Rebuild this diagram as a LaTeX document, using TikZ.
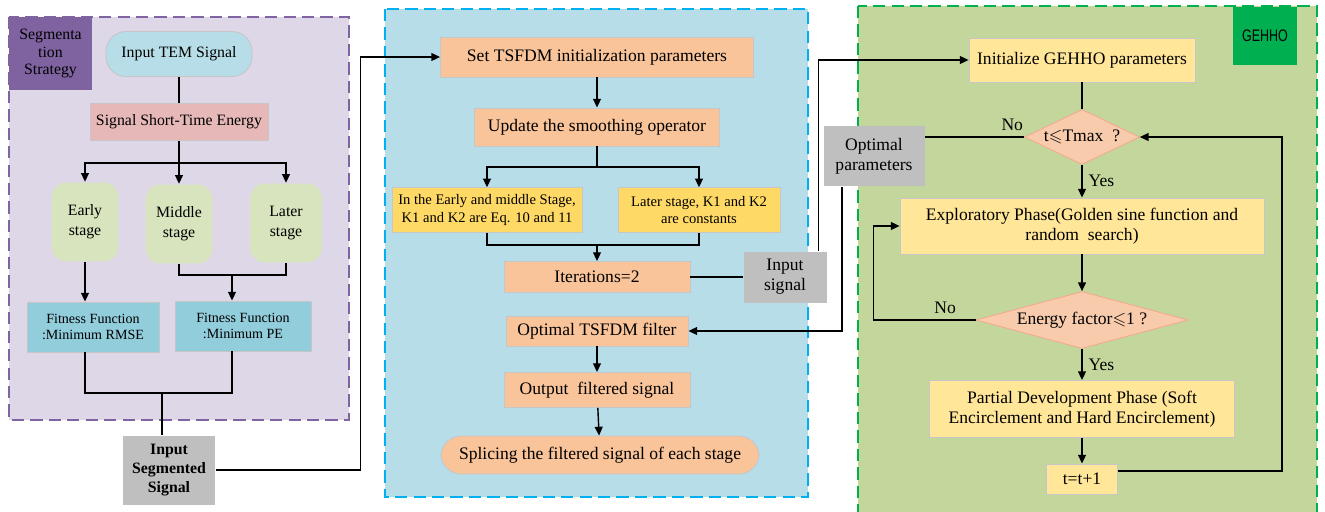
\documentclass[tikz,border=0pt]{standalone}
\usepackage{fontspec}
\usepackage{amssymb}
\setmainfont{Liberation Serif}
\newfontfamily\tagfont[FakeStretch=0.75]{Liberation Sans}
\usetikzlibrary{shapes.geometric,arrows.meta}

\definecolor{segbg}{HTML}{DED7E7}
\definecolor{segline}{HTML}{8064A2}
\definecolor{segtag}{HTML}{7F62A0}
\definecolor{tembg}{HTML}{B7DEE8}
\definecolor{stebg}{HTML}{E6B9B8}
\definecolor{stagebg}{HTML}{D7E4BD}
\definecolor{fitbg}{HTML}{92CDDC}
\definecolor{graybg}{HTML}{BFBFBF}
\definecolor{tsbg}{HTML}{B7DDE8}
\definecolor{tsline}{HTML}{00B0F0}
\definecolor{orangebg}{HTML}{F9C49A}
\definecolor{goldbg}{HTML}{FFD966}
\definecolor{hhobg}{HTML}{C3D69B}
\definecolor{hholine}{HTML}{00B050}
\definecolor{lightyel}{HTML}{FFE699}
\definecolor{decbg}{HTML}{F8CBAD}

\begin{document}
\begin{tikzpicture}[x=0.02cm, y=-0.02cm,
    >={Triangle[length=5pt,width=4.5pt]}, line width=0.8pt,
    panel/.style={line width=1.2pt, dash pattern=on 7pt off 3.5pt},
    box/.style={draw=gray!45, line width=0.5pt, inner sep=1pt, align=center,
        font=\fontsize{10}{11.5}\selectfont},
    pill/.style={box, rounded corners=0.4cm},
    stage/.style={fill=stagebg, rounded corners=0.3cm, align=center,
        minimum width=1.34cm, minimum height=1.58cm, font=\fontsize{9}{11.3}\selectfont},
    fitbox/.style={box, fill=fitbg, minimum width=2.64cm, minimum height=1cm,
        font=\fontsize{8}{9.6}\selectfont},
    graybox/.style={fill=graybg, inner sep=1pt, align=center, font=\fontsize{10}{11.5}\selectfont},
    stepbox/.style={box, fill=orangebg},
    kbox/.style={box, fill=goldbg, minimum height=0.89cm, font=\fontsize{8.3}{10.2}\selectfont},
    hhobox/.style={box, fill=lightyel},
    decision/.style={diamond, fill=decbg, draw=decbg!80!red, line width=0.4pt, inner sep=0pt,
        align=center, font=\fontsize{10}{11.5}\selectfont},
    lbl/.style={font=\fontsize{10}{11.5}\selectfont}
]
\useasboundingbox (0,0) rectangle (1325,511);

%% Panels

% Segmentation strategy
\fill[segbg] (9,17) rectangle (349,420);
\node[fill=segtag, inner sep=0pt, minimum width=1.66cm, minimum height=1.46cm, align=center,
    font=\fontsize{9}{10.2}\selectfont] (segtag) at (50.5,53.5) {Segmenta\\tion\\Strategy};
\draw[segline, panel] (9,17) rectangle (349,420);

% TSFDM
\fill[tsbg] (385,9) rectangle (808,497);
\draw[tsline, panel] (385,9) rectangle (808,497);

% GEHHO
\fill[hhobg] (858,6) rectangle (1317,520);
\draw[hholine, panel] (858,6) rectangle (1317,520);
\node[fill=hholine, minimum width=1.28cm, minimum height=1.16cm,
    font=\tagfont\fontsize{9.5}{11}\selectfont] (hhotag) at (1265,36) {GEHHO};

%% Segmentation strategy

% Nodes
\node[pill, fill=tembg, minimum width=2.92cm, minimum height=0.9cm,
    font=\fontsize{9}{11}\selectfont] (tem) at (179,54) {Input TEM Signal};
\node[box, fill=stebg, minimum width=3.56cm, minimum height=0.74cm,
    font=\fontsize{9}{11}\selectfont] (ste) at (179,122) {Signal Short-Time Energy};
\node[stage] (early) at (85,222) {Early\\stage};
\node[stage] (middle) at (179,224) {Middle\\stage};
\node[stage, minimum width=1.44cm] (later) at (286,223) {Later\\stage};
\node[fitbox] (fit1) at (93,327) {Fitness Function\\:Minimum RMSE};
\node[fitbox, minimum width=2.72cm] (fit2) at (243,326) {Fitness Function\\:Minimum PE};
\node[graybox, minimum width=1.84cm, minimum height=1.38cm,
    font=\fontsize{9}{11}\selectfont\bfseries] (iss) at (169,470) {Input\\Segmented\\Signal};

% Connectors
\coordinate (j1) at (179,163);
\coordinate (j2) at (232,275);
\coordinate (j3) at (162,393);
\draw (tem) -- (ste);
\draw (ste) -- (j1);
\draw[->] (j1) -| (early);
\draw[->] (j1) -- (middle);
\draw[->] (j1) -| (later);
\draw[->] (early) -- (early |- fit1.north);
\draw (middle.south) |- (j2) -| (later.south);
\draw[->] (j2) -- (j2 |- fit2.north);
\draw (early |- fit1.south) |- (j3) -| (j2 |- fit2.south);
\draw (j3) -- (j3 |- iss.north);

%% TSFDM

% Nodes
\node[stepbox, minimum width=6.26cm, minimum height=0.8cm] (set) at (597,57) {Set TSFDM initialization parameters};
\node[stepbox, minimum width=4.9cm, minimum height=0.76cm] (update) at (597,127) {Update the smoothing operator};
\node[kbox, minimum width=3.8cm] (k1) at (487,210) {In the Early and middle Stage,\\K1 and K2 are Eq. 10 and 11};
\node[kbox, minimum width=3.24cm] (k2) at (699,210) {Later stage, K1 and K2\\are constants};
\node[stepbox, minimum width=3.72cm, minimum height=0.62cm] (iter) at (597,277) {Iterations=2};
\node[graybox, minimum width=1.66cm, minimum height=1.02cm] (insig) at (785,277) {Input\\signal};
\node[stepbox, minimum width=3.64cm, minimum height=0.6cm] (filter) at (597,331) {Optimal TSFDM filter};
\node[stepbox, minimum width=3.72cm, minimum height=0.7cm] (output) at (597,390) {Output~ filtered signal};
\node[pill, fill=orangebg, minimum width=6.36cm, minimum height=0.76cm] (splice) at (600,455) {Splicing the filtered signal of each stage};
\node[graybox, minimum width=2.02cm, minimum height=1.2cm] (optp) at (874,156) {Optimal\\parameters};

% Connectors
\coordinate (j4) at (597,167);
\coordinate (j5) at (597,245);
\draw[->] (iss.east) -- ++(145,0) |- (set.west);
\draw[->] (set) -- (update);
\draw (update) -- (j4);
\draw[->] (j4) -| (k1);
\draw[->] (j4) -| (k2);
\draw (k1.south) |- (j5) -| (k2.south);
\draw[->] (j5) -- (iter);
\draw (insig) -- (iter);
\draw[->] (filter) -- (output);
\draw[->] (output) -- (splice);
\draw[->] ([xshift=-0.64cm]optp.south) |- (filter.east);

%% GEHHO

% Nodes
\node[hhobox, minimum width=4.52cm, minimum height=0.88cm] (init) at (1082,60) {Initialize GEHHO parameters};
\node[decision, aspect=2.1, minimum width=2.3cm, minimum height=1.1cm] (d1) at (1082,137) {t$\leqslant$Tmax~ ?};
\node[hhobox, minimum width=7.28cm, minimum height=1.12cm] (expl) at (1082,226) {Exploratory Phase(Golden sine function and\\random~ search)};
\node[decision, aspect=3.7, minimum width=4.24cm, minimum height=1.14cm] (d2) at (1082,320) {Energy factor$\leqslant$1 ?};
\node[hhobox, minimum width=6.1cm, minimum height=1.14cm] (partial) at (1082,409) {Partial Development Phase (Soft\\Encirclement and Hard Encirclement)};
\node[hhobox, minimum width=1.42cm, minimum height=0.6cm] (tt) at (1082,479) {t=t+1};

% Connectors
\draw[->] ([xshift=-0.18cm]insig.north east) |- (init.west);
\draw (init) -- (d1);
\draw[->] (d1) -- (expl) node[lbl, midway, right] {Yes};
\draw (d1.west) -- (d1.west -| optp.east) node[lbl, pos=0.12, above] {No};
\draw[->] (expl) -- (d2);
\draw[->] (d2.west) -- ++(-102,0) node[lbl, pos=0.3, above] {No} |- (expl.west);
\draw[->] (d2) -- (partial) node[lbl, midway, right] {Yes};
\draw[->] (partial) -- (tt);
\draw[->] ([yshift=0.16cm]tt.east) -- ++(164,0) |- (d1.east);

\end{tikzpicture}
\end{document}
